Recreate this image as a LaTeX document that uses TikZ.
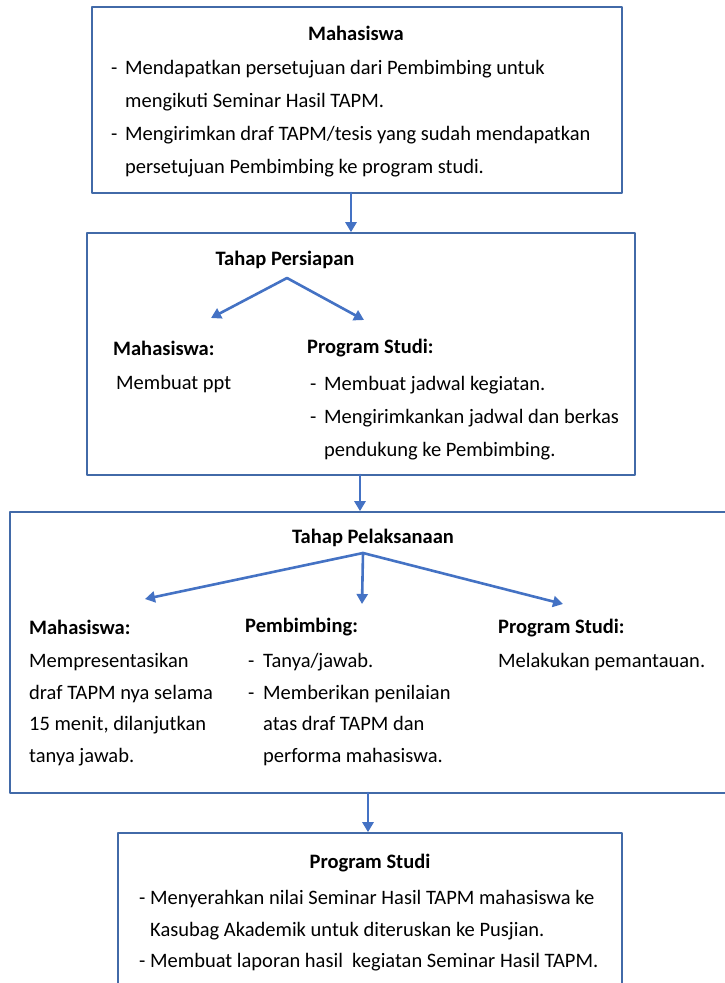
\documentclass[tikz,border=0pt]{standalone}
\usepackage{fontspec}
\setmainfont{Carlito}
\usepackage{tikz}
\usetikzlibrary{arrows.meta, calc}

\definecolor{boxblue}{RGB}{66,106,168}
\definecolor{arrblue}{RGB}{68,114,196}

\newcommand{\dsh}[1][14pt]{\makebox[#1][l]{-}}
\newcommand{\ind}[1][14pt]{\hspace*{#1}}
\newcommand{\txtfont}{\fontsize{20.5}{33}\selectfont}

\tikzset{
  box/.style={draw=boxblue, line width=1.6pt, fill=white, inner sep=0pt},
  arr/.style={-{Triangle[length=10pt,width=11pt]}, draw=arrblue, fill=arrblue, line width=2.6pt},
  ttl/.style={font=\txtfont\bfseries, inner sep=0pt},
  txt/.style={align=left, inner sep=0pt, anchor=north west},
}

\begin{document}
\begin{tikzpicture}[line cap=round,line join=round,x=1pt,y=-1pt,
  every node/.append style={font=\txtfont}]
\useasboundingbox (0,0) rectangle (725,983);
\clip (0,0) rectangle (725,983);

% boxes
\node[box, minimum width=530pt, minimum height=186pt] (box1) at (357,100) {};
\node[box, minimum width=548pt, minimum height=242pt] (box2) at (361,354) {};
\node[box, minimum width=720pt, minimum height=281pt] (box3) at (370,652.5) {};
\node[box, minimum width=504pt, minimum height=162pt] (box4) at (370,914) {};

\coordinate (a1) at (351,193);
\coordinate (a2) at (360,475);
\coordinate (a3) at (368,793);
\draw[arr] (a1) -- (box2.north -| a1);
\draw[arr] (a2) -- (box3.north -| a2);
\draw[arr] (a3) -- (box4.north -| a3);

% Mahasiswa
\node[ttl] (mhs) at (356,33) {Mahasiswa};
\node[txt] (mhsitems) at (111,60) {\dsh Mendapatkan persetujuan dari Pembimbing untuk\\
  \ind mengikuti Seminar Hasil TAPM.\\
  \dsh Mengirimkan draf TAPM/tesis yang sudah mendapatkan\\
  \ind persetujuan Pembimbing ke program studi.};

% Tahap Persiapan
\node[ttl] (prs) at (285,260) {Tahap Persiapan};
\coordinate (prs0) at (287,278);
\coordinate (prsL) at (211,318);
\coordinate (prsR) at (364,320);
\draw[arr] (prs0) -- (prsL);
\draw[arr] (prs0) -- (prsR);

\node[ttl, anchor=west] (prsmhs) at (113,348) {Mahasiswa:};
\node[txt] (prsmhstxt) at (116,375) {Membuat ppt};
\node[ttl, anchor=west] (prsps) at (307,348) {Program Studi:};
\node[txt] (prspstxt) at (310,376) {\dsh Membuat jadwal kegiatan.\\
  \dsh Mengirimkankan jadwal dan berkas\\
  \ind pendukung ke Pembimbing.};

% Tahap Pelaksanaan
\node[ttl] (pel) at (373,538) {Tahap Pelaksanaan};
\coordinate (pel0) at (363,553);
\coordinate (pelL) at (145,599);
\coordinate (pelM) at (362,604);
\coordinate (pelR) at (563,604);
\draw[arr] (pel0) -- (pelL);
\draw[arr] (pel0) -- (pelM);
\draw[arr] (pel0) -- (pelR);

\begin{scope}[every node/.append style={font=\fontsize{20.5}{31.7}\selectfont}]
\node[ttl, anchor=west] (pelmhs) at (29,627) {Mahasiswa:};
\node[txt] (pelmhstxt) at (29,653) {Mempresentasikan\\
  draf TAPM nya selama\\
  15 menit, dilanjutkan\\
  tanya jawab.};
\node[ttl, anchor=west] (pelpb) at (245,627) {Pembimbing:};
\node[txt] (pelpbtxt) at (248,653) {\dsh[15pt]Tanya/jawab.\\
  \dsh[15pt]Memberikan penilaian\\
  \ind[15pt]atas draf TAPM dan\\
  \ind[15pt]performa mahasiswa.};
\node[ttl, anchor=west] (pelps) at (498,628) {Program Studi:};
\node[txt] (pelpstxt) at (498,653) {Melakukan pemantauan.};

% Program Studi
\node[ttl] (ps) at (370,863) {Program Studi};
\node[txt] (psitems) at (139,890) {\dsh[11pt]Menyerahkan nilai Seminar Hasil TAPM mahasiswa ke\\
  \ind[11pt]Kasubag Akademik untuk diteruskan ke Pusjian.\\
  \dsh[11pt]Membuat laporan hasil\ \ kegiatan Seminar Hasil TAPM.};
\end{scope}
\end{tikzpicture}
\end{document}
